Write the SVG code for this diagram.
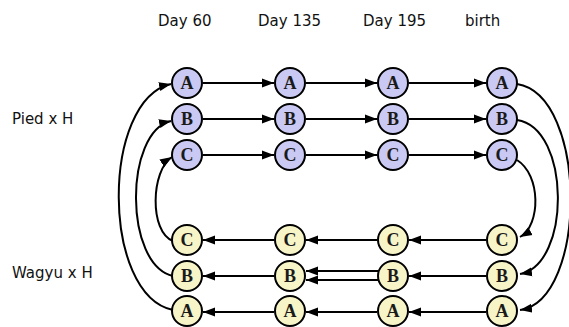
<svg xmlns="http://www.w3.org/2000/svg" width="569" height="327" viewBox="0 0 569 327">
<style>
.lbl{font-family:"DejaVu Sans",Verdana,sans-serif;font-size:15px;fill:#111}
.top circle{fill:#c9c9f3;stroke:#000;stroke-width:2}
.bot circle{fill:#f7f5c8;stroke:#000;stroke-width:2}
.node text{font-family:"Liberation Serif","Times New Roman",serif;font-size:18px;font-weight:bold;fill:#1a1a1a;text-anchor:middle}
.con path{fill:none;stroke:#000;stroke-width:2;marker-end:url(#ah)}
</style>
<defs>
<marker id="ah" markerUnits="userSpaceOnUse" markerWidth="13" markerHeight="10" refX="12" refY="5" orient="auto">
<path d="M0,0.5 L12,5 L0,9.5 Z" fill="#000"/>
</marker>
</defs>
<rect width="569" height="327" fill="#fff"/>
<g id="labels">
<text class="lbl" x="158" y="26">Day 60</text>
<text class="lbl" x="258" y="26">Day 135</text>
<text class="lbl" x="363" y="26">Day 195</text>
<text class="lbl" x="465" y="26">birth</text>
<text class="lbl" x="12" y="124">Pied x H</text>
<text class="lbl" x="12" y="278">Wagyu x H</text>
</g>
<g id="connectors" class="con">
<path d="M203,83 H274"/><path d="M306,83 H377"/><path d="M409,83 H486"/>
<path d="M203,119 H274"/><path d="M306,119 H377"/><path d="M409,119 H486"/>
<path d="M203,155 H274"/><path d="M306,155 H377"/><path d="M409,155 H486"/>
<path d="M486,240 H409"/><path d="M377,240 H306"/><path d="M274,240 H203"/>
<path d="M486,276 H409"/><path d="M379,271 H306"/><path d="M379,280 H306"/><path d="M274,276 H203"/>
<path d="M486,312 H409"/><path d="M377,312 H306"/><path d="M274,312 H203"/>
<path d="M517,84 C588,95 588,300 520,310"/>
<path d="M517,120 C571,128 571,265 520,274"/>
<path d="M517,160 C541,175 541,225 520,237"/>
<path d="M173,310 C101,295 101,100 171,84"/>
<path d="M173,276 C124,265 124,132 171,121"/>
<path d="M173,241 C149,232 151,170 172,157"/>
</g>
<g id="nA1" class="node top"><circle cx="187" cy="83" r="15"/><text x="187" y="89">A</text></g>
<g id="nA2" class="node top"><circle cx="290" cy="83" r="15"/><text x="290" y="89">A</text></g>
<g id="nA3" class="node top"><circle cx="393" cy="83" r="15"/><text x="393" y="89">A</text></g>
<g id="nA4" class="node top"><circle cx="502" cy="83" r="15"/><text x="502" y="89">A</text></g>
<g id="nB1" class="node top"><circle cx="187" cy="119" r="15"/><text x="187" y="125">B</text></g>
<g id="nB2" class="node top"><circle cx="290" cy="119" r="15"/><text x="290" y="125">B</text></g>
<g id="nB3" class="node top"><circle cx="393" cy="119" r="15"/><text x="393" y="125">B</text></g>
<g id="nB4" class="node top"><circle cx="502" cy="119" r="15"/><text x="502" y="125">B</text></g>
<g id="nC1" class="node top"><circle cx="187" cy="155" r="15"/><text x="187" y="161">C</text></g>
<g id="nC2" class="node top"><circle cx="290" cy="155" r="15"/><text x="290" y="161">C</text></g>
<g id="nC3" class="node top"><circle cx="393" cy="155" r="15"/><text x="393" y="161">C</text></g>
<g id="nC4" class="node top"><circle cx="502" cy="155" r="15"/><text x="502" y="161">C</text></g>
<g id="wC1" class="node bot"><circle cx="187" cy="240" r="15"/><text x="187" y="246">C</text></g>
<g id="wC2" class="node bot"><circle cx="290" cy="240" r="15"/><text x="290" y="246">C</text></g>
<g id="wC3" class="node bot"><circle cx="393" cy="240" r="15"/><text x="393" y="246">C</text></g>
<g id="wC4" class="node bot"><circle cx="502" cy="240" r="15"/><text x="502" y="246">C</text></g>
<g id="wB1" class="node bot"><circle cx="187" cy="276" r="15"/><text x="187" y="282">B</text></g>
<g id="wB2" class="node bot"><circle cx="290" cy="276" r="15"/><text x="290" y="282">B</text></g>
<g id="wB3" class="node bot"><circle cx="393" cy="276" r="15"/><text x="393" y="282">B</text></g>
<g id="wB4" class="node bot"><circle cx="502" cy="276" r="15"/><text x="502" y="282">B</text></g>
<g id="wA1" class="node bot"><circle cx="187" cy="311" r="15"/><text x="187" y="317">A</text></g>
<g id="wA2" class="node bot"><circle cx="290" cy="311" r="15"/><text x="290" y="317">A</text></g>
<g id="wA3" class="node bot"><circle cx="393" cy="311" r="15"/><text x="393" y="317">A</text></g>
<g id="wA4" class="node bot"><circle cx="502" cy="311" r="15"/><text x="502" y="317">A</text></g>
</svg>
